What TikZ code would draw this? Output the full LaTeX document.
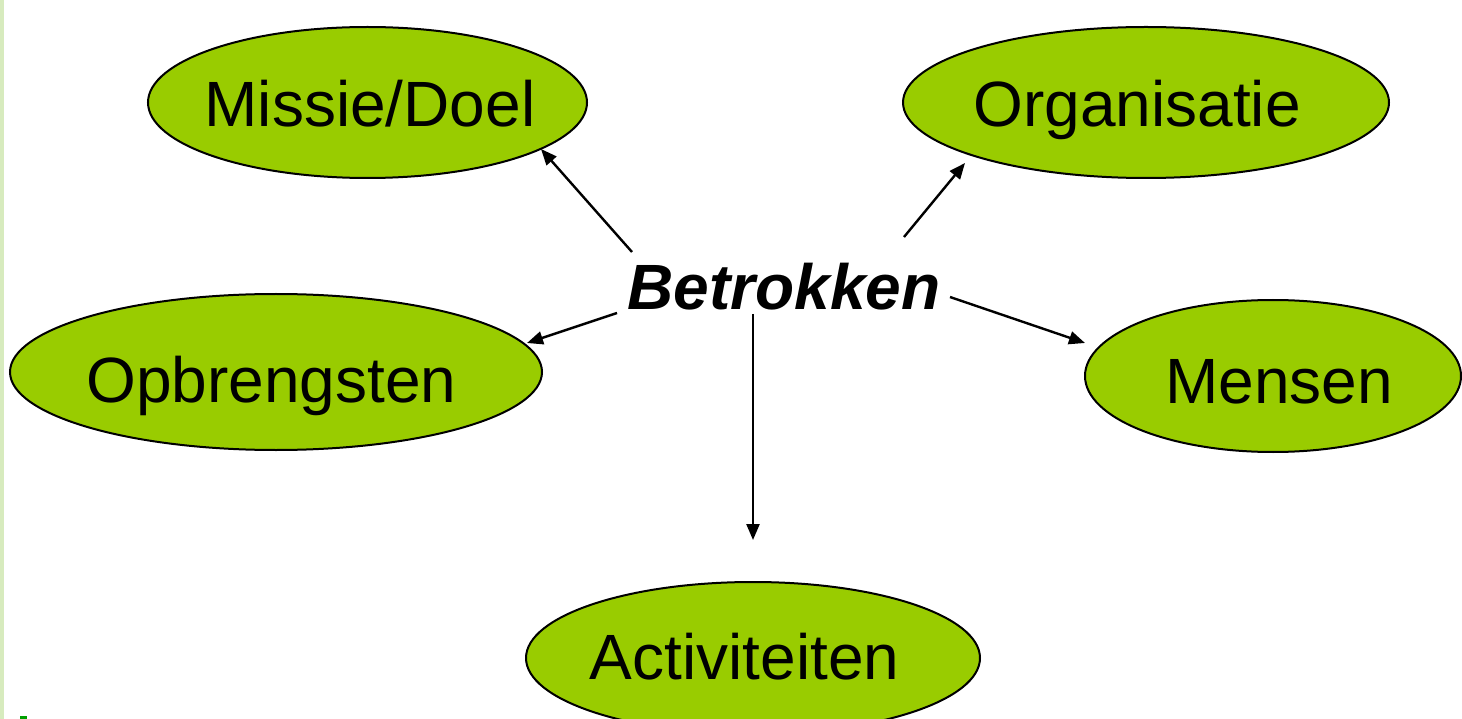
\documentclass[tikz,border=0pt]{standalone}
\usepackage{fontspec}
\setmainfont{Liberation Sans}
\usetikzlibrary{shapes.geometric,arrows.meta}
\definecolor{blobgreen}{RGB}{153,204,0}
\definecolor{paleedge}{RGB}{215,235,190}
\definecolor{markgreen}{RGB}{0,160,0}
\begin{document}
\begin{tikzpicture}[x=1pt,y=-1pt,
  blob/.style={ellipse,draw=black,line width=2pt,fill=blobgreen,inner sep=0pt},
  lbl/.style={inner sep=0pt,text height=46pt,text depth=0pt,font=\fontsize{64}{70}\selectfont},
  arr/.style={line width=2.4pt,-{Triangle[length=16pt,width=13pt]}}]
\clip (0,0) rectangle (1462,719);
\fill[white] (0,0) rectangle (1462,719);
\fill[paleedge] (0,0) rectangle (4,719);
\fill[markgreen] (20,716) rectangle (27,719);
% ellipses
\node[blob,minimum width=439pt,minimum height=151pt] (m) at (367.5,102.5) {};
\node[blob,minimum width=486pt,minimum height=151pt] (o) at (1146,102.5) {};
\node[blob,minimum width=532pt,minimum height=156pt] (p) at (276,372) {};
\node[blob,minimum width=376pt,minimum height=152pt] (me) at (1273,376) {};
\node[blob,minimum width=454pt,minimum height=152pt] (a) at (753,658) {};
% labels
\node[lbl] (mt) at (370,103.5) {Missie/Doel};
\node[lbl] (ot) at (1137,103.5) {Organisatie};
\node[lbl] (pt) at (271.5,379.5) {Opbrengsten};
\node[lbl] (met) at (1279,380) {Mensen};
\node[lbl] (at) at (744.5,656) {Activiteiten};
\node[lbl,font=\fontsize{64}{70}\selectfont\bfseries\itshape] (b) at (784,287) {Betrokken};
% arrow ends
\coordinate (s1) at (632,252); \coordinate (e1) at (541,149);
\coordinate (s2) at (904,237); \coordinate (e2) at (965,163);
\coordinate (s3) at (617,313); \coordinate (e3) at (527,343);
\coordinate (s4) at (950,297); \coordinate (e4) at (1085,343);
\coordinate (s5) at (753,314); \coordinate (e5) at (753,540);
\draw[arr] (s1) -- (e1);
\draw[arr] (s2) -- (e2);
\draw[arr] (s3) -- (e3);
\draw[arr] (s4) -- (e4);
\draw[arr] (s5) -- (e5);
\end{tikzpicture}
\end{document}
